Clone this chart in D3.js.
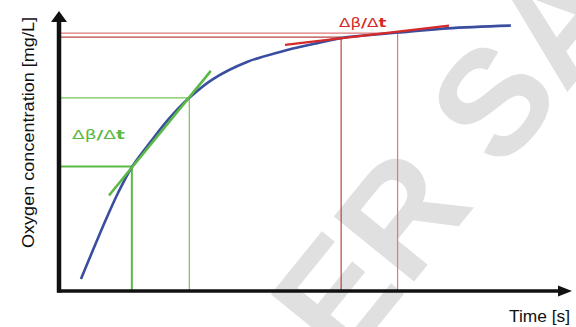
<!DOCTYPE html>
<html>
<head>
<meta charset="utf-8">
<script src="https://cdn.jsdelivr.net/npm/d3@7"></script>
<style>
  body { margin: 0; background: #fff; }
  svg { display: block; }
</style>
</head>
<body>
<div id="chart"></div>
<script>
// oxygen curve (time in s, concentration in mg/L)
var curveTime = [2.14, 3.31, 4.68, 5.75, 7.11, 8.87, 10.62, 12.67, 15.01, 18.32, 21.54, 24.76, 27.58, 30.31, 33.04, 37.82, 44.05];
var curveConc = [0.43, 1.46, 2.64, 3.5, 4.43, 5.30, 6.11, 6.89, 7.57, 8.18, 8.54, 8.82, 9.04, 9.14, 9.23, 9.38, 9.48];

// early phase: two read points and the slope line through them
var greenTime = [7.1, 12.7];
var greenConc = [4.45, 6.9];
var greenSlopeTime = [4.87, 14.8];
var greenSlopeConc = [3.41, 7.86];

// late phase
var redTime = [27.5, 33.0];
var redConc = [9.07, 9.21];
var redSlopeTime = [22.03, 38.01];
var redSlopeConc = [8.79, 9.475];

var slopeLabel = ['\u0394\u03b2', '/', '\u0394', 't'];

var width = 576, height = 327;
var svg = d3.select('#chart').append('svg')
    .attr('width', width)
    .attr('height', height);

var x = d3.scaleLinear().domain([0, 50]).range([59, 572]);
var y = d3.scaleLinear().domain([0, 10]).range([291, 11]);

// watermark
svg.append('text')
    .attr('transform', 'translate(447,155) rotate(-51)')
    .attr('text-anchor', 'middle')
    .attr('dy', '0.36em')
    .style('font-family', 'Liberation Sans, Arial, sans-serif')
    .style('font-weight', 'bold')
    .style('font-size', '150px')
    .style('fill', '#e0e0e0')
    .text('ER SA');

var line = d3.line()
    .x(function(d){ return x(d[0]); })
    .y(function(d){ return y(d[1]); });

var smooth = d3.line()
    .x(function(d){ return x(d[0]); })
    .y(function(d){ return y(d[1]); })
    .curve(d3.curveCatmullRom);

function guides(t, c, color, w){
    svg.append('line')
        .attr('x1', x(0)).attr('x2', x(t))
        .attr('y1', y(c)).attr('y2', y(c))
        .attr('stroke', color).attr('stroke-width', w);
    svg.append('line')
        .attr('x1', x(t)).attr('x2', x(t))
        .attr('y1', y(c)).attr('y2', y(0))
        .attr('stroke', color).attr('stroke-width', w);
}

guides(greenTime[0], greenConc[0], '#5cba47', 2);
guides(greenTime[1], greenConc[1], '#74c35a', 1.2);
guides(redTime[0], redConc[0], '#b84545', 1.2);
guides(redTime[1], redConc[1], '#e07878', 1.2);

// blue curve
svg.append('path')
    .datum(d3.zip(curveTime, curveConc))
    .attr('d', smooth)
    .attr('fill', 'none')
    .attr('stroke', '#3a4d9e')
    .attr('stroke-width', 2.6);

svg.append('path')
    .datum(d3.zip(greenSlopeTime, greenSlopeConc))
    .attr('d', line)
    .attr('fill', 'none')
    .attr('stroke', '#5ab845')
    .attr('stroke-width', 2.6);

svg.append('path')
    .datum(d3.zip(redSlopeTime, redSlopeConc))
    .attr('d', line)
    .attr('fill', 'none')
    .attr('stroke', '#d62a2a')
    .attr('stroke-width', 2.2);

// axes with arrow heads
svg.append('line')
    .attr('x1', x(0)).attr('x2', x(0))
    .attr('y1', y(0) + 1.5).attr('y2', y(10) + 10)
    .attr('stroke', '#111').attr('stroke-width', 4.5);
svg.append('path')
    .attr('d', 'M' + x(0) + ',' + y(10) + 'l-8,11h16z')
    .attr('fill', '#111');

svg.append('line')
    .attr('x1', x(0) - 2).attr('x2', x(50) - 13)
    .attr('y1', y(0)).attr('y2', y(0))
    .attr('stroke', '#111').attr('stroke-width', 3.5);
svg.append('path')
    .attr('d', 'M' + x(50) + ',' + y(0) + 'l-14,-5.5v11z')
    .attr('fill', '#111');

// labels
function slopeText(px, py, len, size, color){
    var t = svg.append('text')
        .attr('x', px).attr('y', py)
        .attr('textLength', len)
        .attr('lengthAdjust', 'spacingAndGlyphs')
        .style('font-family', 'DejaVu Sans, sans-serif')
        .style('font-size', size + 'px')
        .style('fill', color);
    slopeLabel.forEach(function(s, i){
        t.append('tspan')
            .style('font-weight', i % 2 ? 'bold' : 'normal')
            .text(s);
    });
}
slopeText(72, 138.5, 53, 12.5, '#5ab845');
slopeText(339, 26.5, 47.5, 11.5, '#d62a2a');

svg.append('text')
    .attr('transform', 'translate(34,132.5) rotate(-90)')
    .attr('text-anchor', 'middle')
    .attr('textLength', 231)
    .attr('lengthAdjust', 'spacingAndGlyphs')
    .style('font-family', 'Liberation Sans, Arial, sans-serif')
    .style('font-size', '16px')
    .style('fill', '#111')
    .text('Oxygen concentration [mg/L]');

svg.append('text')
    .attr('x', 509).attr('y', 321.5)
    .attr('textLength', 61)
    .attr('lengthAdjust', 'spacingAndGlyphs')
    .style('font-family', 'Liberation Sans, Arial, sans-serif')
    .style('font-size', '17px')
    .style('fill', '#111')
    .text('Time [s]');
</script>
</body>
</html>
